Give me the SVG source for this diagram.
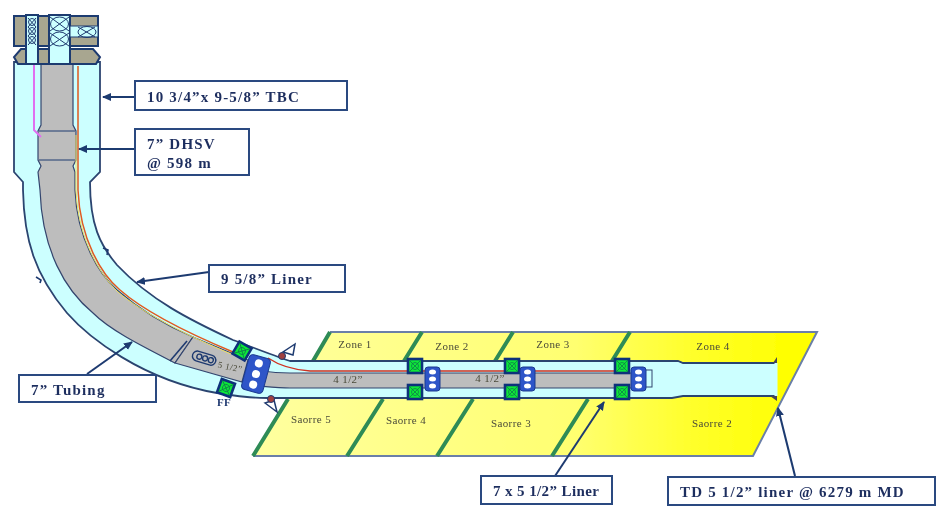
<svg xmlns="http://www.w3.org/2000/svg" width="936" height="507" viewBox="0 0 936 507">
<style>
.lab{font-family:"Liberation Serif","Times New Roman",serif;font-weight:bold;fill:#1f2f5f;font-size:15px;letter-spacing:1.2px}
.zone{font-family:"Liberation Serif","Times New Roman",serif;fill:#4a4a3a;font-size:11px;letter-spacing:.4px;text-anchor:middle}
.box{fill:#fff;stroke:#2c4a80;stroke-width:2}
.green{fill:none;stroke:#2e8b57;stroke-width:4}
.ln{fill:none;stroke:#1f3a70;stroke-width:1.6}
.wall{fill:#ccffff;stroke:#2c4470;stroke-width:1.8}
.gray{fill:#bdbdbd;stroke:#33456e;stroke-width:1.2}
.sq{fill:#10e838;stroke:#10307a;stroke-width:2.6}
.x{stroke:#107a4a;stroke-width:.8;fill:none}
.wx{stroke:#1f3a70;stroke-width:1;fill:none}
.pk{fill:#2d55c8;stroke:#1c3a90;stroke-width:1}
.hole{fill:#fff}
.conn{fill:none;stroke:#1f3a70;stroke-width:2}
</style>
<defs>
<linearGradient id="y" gradientUnits="userSpaceOnUse" x1="253" y1="0" x2="790" y2="0">
<stop offset="0" stop-color="#ffffa0"/><stop offset="0.6" stop-color="#ffff70"/><stop offset="0.8" stop-color="#ffff30"/><stop offset="1" stop-color="#ffff00"/>
</linearGradient>
<marker id="a" markerWidth="10" markerHeight="10" refX="8" refY="4" orient="auto" markerUnits="userSpaceOnUse"><path d="M0 0L9 4L0 8Z" fill="#1f3a70"/></marker>
<filter id="b" x="-5%" y="-5%" width="110%" height="110%"><feGaussianBlur stdDeviation="0.7"/></filter>
<g id="sqm"><rect class="sq" x="-7" y="-7" width="14" height="14"/><path class="x" d="M-6 -6L6 6M6 -6L-6 6"/><circle class="x" r="3.500"/></g>
</defs>
<rect width="936" height="507" fill="#fff"/>
<g filter="url(#b)">
<g id="formation">
<path d="M330 332H817L753 456H253L310 362Z" fill="url(#y)"/>
<path d="M330 332H817L753 456H253" fill="none" stroke="#6a7fa8" stroke-width="2"/>
<path class="green" d="M330 332L313 361M422 332L404 361M513 332L495 361M630 332L612 361M288 399L253 456M383 399L347 456M473 399L437 456M588 399L552 456"/>
</g>
<g id="well">
<path class="wall" d="M14 62V172L23 182V190C24 240 35 275 67 313C88 337 142 380 217 393C235 396 250 398 268 398H672L683 396H776V363H683L678 361H290C272 355 252 347 233 340C190 320 150 300 117 265C100 245 90 225 90 182L100 172V62Z"/>
<path d="M776 396V363" stroke="#ccffff" stroke-width="3"/>
<path class="gray" d="M41 64H73V125L76 131V160L73 166L75 172V190C77 240 100 275 117 290C140 310 165 325 193 337L175 363C140 345 110 330 93 313C65 290 42 250 40 190L38 172L41 166L38 160V131L41 125Z"/>
<path class="ln" d="M39 131H75M39 160H75" style="stroke-width:1"/>
<path class="gray" d="M193 337L248 360L242 382L175 363Z"/>
<path class="ln" d="M187 341L170 361"/>
<path class="gray" d="M262 371C275 373 280 373 290 373H632V388H290C280 388 270 387 258 386Z"/>
<path fill="none" stroke="#f0e060" stroke-width="1" d="M76 135V190C78 240 101 276 118 292C141 312 188 336 231 354"/>
<path fill="none" stroke="#e05a20" stroke-width="1.500" d="M78 66V190C80 240 102 275 120 290C145 312 190 334 233 352"/>
<path fill="none" stroke="#d03020" stroke-width="1.400" d="M268 358C280 366 295 370 310 371H620"/>
<path fill="none" stroke="#e070f0" stroke-width="2" d="M34 64V130L41 137"/>
</g>
<g id="wellhead">
<rect x="14" y="16" width="84" height="30" fill="#a8a690" stroke="#1f3a70" stroke-width="2"/>
<path d="M21 49H93L100 57L96 64H18L14 57Z" fill="#a8a690" stroke="#1f3a70" stroke-width="2"/>
<rect x="26" y="15" width="12" height="49" fill="#ccffff" stroke="#1f3a70" stroke-width="2"/>
<rect x="49" y="15" width="21" height="49" fill="#ccffff" stroke="#1f3a70" stroke-width="2"/>
<path d="M70 26H98V37H70Z" fill="#ccffff" stroke="#1f3a70"/>
<path class="wx" d="M28 18L36 27M36 18L28 27M28 27L36 36M36 27L28 36M28 36L36 45M36 36L28 45"/>
<circle class="wx" cx="32" cy="22" r="3.500"/><circle class="wx" cx="32" cy="31" r="3.500"/><circle class="wx" cx="32" cy="40" r="3.500"/>
<path class="wx" d="M50 17L69 31M69 17L50 31M50 33L69 46M69 33L50 46M78 27L95 37M95 27L78 37"/>
<ellipse class="wx" cx="59.500" cy="24" rx="9" ry="7"/><ellipse class="wx" cx="59.500" cy="39" rx="9" ry="7"/><ellipse class="wx" cx="87" cy="32" rx="9" ry="5.500"/>
</g>
<g id="tool"><g transform="rotate(17 207 359)" fill="none" stroke="#1f3a70" stroke-width="1.400"><rect x="192" y="354" width="24" height="10" rx="5"/><circle cx="199" cy="359" r="2.500"/><circle cx="205" cy="359" r="2.500"/><circle cx="211" cy="359" r="2.500"/></g></g>
<g id="packers">
<use href="#sqm" transform="translate(242 351) rotate(30)"/>
<use href="#sqm" transform="translate(226 388) rotate(20)"/>
<use href="#sqm" x="415" y="366"/><use href="#sqm" x="415" y="392"/>
<use href="#sqm" x="512" y="366"/><use href="#sqm" x="512" y="392"/>
<use href="#sqm" x="622" y="366"/><use href="#sqm" x="622" y="392"/>
<g transform="translate(256 374) rotate(15)"><rect class="pk" x="-11" y="-18" width="22" height="36" rx="4"/><circle class="hole" cy="-11" r="4"/><circle class="hole" r="4"/><circle class="hole" cy="11" r="4"/></g>
<g id="p2"><rect class="pk" x="425" y="367" width="15" height="24" rx="3"/><ellipse class="hole" cx="432.500" cy="372" rx="3.500" ry="2.500"/><ellipse class="hole" cx="432.500" cy="379" rx="3.500" ry="2.500"/><ellipse class="hole" cx="432.500" cy="386" rx="3.500" ry="2.500"/></g>
<use href="#p2" x="95"/>
<rect x="645" y="370" width="7" height="17" fill="#ccffff" stroke="#33456e"/>
<use href="#p2" x="206"/>
</g>
<g id="shoes">
<path d="M295 344L283 352L293 355Z" fill="#fff" stroke="#1f3a70" stroke-width="1.500"/><circle cx="282" cy="356" r="3.500" fill="#a04040" stroke="#1f3a70"/>
<path d="M265 403L277 412L274 400Z" fill="#fff" stroke="#1f3a70" stroke-width="1.500"/><circle cx="271" cy="399" r="3.500" fill="#a04040" stroke="#1f3a70"/>
<path d="M773 363L777 357V363Z" fill="#445"/><path d="M770 396H777V401Z" fill="#445"/>
<path class="ln" d="M103 248L108 250L107 255M36 277L41 280L40 283"/>
</g>
<text class="zone" x="355" y="348">Zone 1</text><text class="zone" x="452" y="350">Zone 2</text><text class="zone" x="553" y="348">Zone 3</text><text class="zone" x="713" y="350">Zone 4</text>
<text class="zone" x="311" y="423">Saorre 5</text><text class="zone" x="406" y="424">Saorre 4</text><text class="zone" x="511" y="427">Saorre 3</text><text class="zone" x="712" y="427">Saorre 2</text>
<text class="zone" x="348" y="383">4 1/2”</text><text class="zone" x="490" y="382">4 1/2”</text>
<text class="zone" x="230" y="370" transform="rotate(12 230 367)" style="font-size:9px">5 1/2”</text>
<text class="zone" x="224" y="406" style="font-weight:bold;fill:#1f3a70">FF</text>
<g id="connectors">
<path class="conn" marker-end="url(#a)" d="M135 97H103"/>
<path class="conn" marker-end="url(#a)" d="M135 149H79"/>
<path class="conn" marker-end="url(#a)" d="M209 272L137 282"/>
<path class="conn" marker-end="url(#a)" d="M87 374L132 342"/>
<path class="conn" marker-end="url(#a)" d="M555 476L604 402"/>
<path class="conn" marker-end="url(#a)" d="M795 476L778 408"/>
</g>
<g id="label-tbc"><rect class="box" x="135" y="81" width="212" height="29"/><text class="lab" x="147" y="102">10 3/4”x 9-5/8” TBC</text></g>
<g id="label-dhsv"><rect class="box" x="135" y="129" width="114" height="46"/><text class="lab" x="147" y="149">7” DHSV</text><text class="lab" x="147" y="168">@ 598 m</text></g>
<g id="label-liner"><rect class="box" x="209" y="265" width="136" height="27"/><text class="lab" x="221" y="284">9 5/8” Liner</text></g>
<g id="label-tubing"><rect class="box" x="19" y="375" width="137" height="27"/><text class="lab" x="31" y="395">7” Tubing</text></g>
<g id="label-7x5"><rect class="box" x="481" y="476" width="131" height="28"/><text class="lab" x="493" y="496" style="letter-spacing:.4px">7 x 5 1/2” Liner</text></g>
<g id="label-td"><rect class="box" x="668" y="477" width="267" height="28"/><text class="lab" x="680" y="497">TD 5 1/2” liner @ 6279 m MD</text></g>
</g>
</svg>
